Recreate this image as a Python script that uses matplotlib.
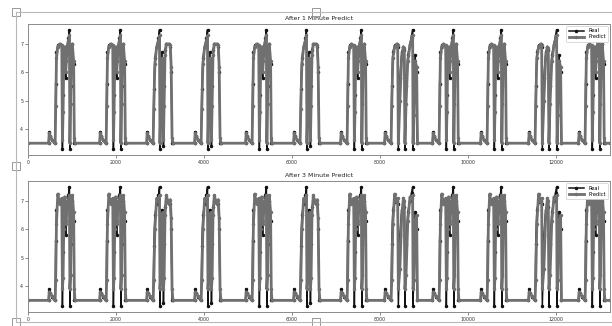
import matplotlib.pyplot as plt
from matplotlib.patches import Rectangle
from matplotlib.lines import Line2D

# one cycle = bump before the rise, then several up/down swings
# offsets are in samples from the rise
OFFSETS = {
    'A': [-150, -135, -110, -70, -20, 0, 12, 30, 60, 100, 150, 165, 180, 195, 215, 240, 255, 270, 300, 325, 335, 350, 365, 390, 420, 435, 450],
    'B': [-150, -135, -110, -70, -20, 0, 15, 40, 80, 120, 145, 155, 175, 200, 220, 235, 250, 270, 300, 350, 390, 410, 430, 450],
    'C': [-150, -135, -110, -70, -20, 0, 15, 40, 80, 130, 150, 165, 200, 240, 280, 300, 315, 340, 380, 430, 470, 490, 500, 520, 545, 580, 600],
}
real_vals = {
    'A': [3.5, 3.9, 3.75, 3.62, 3.55, 3.5, 5.6, 6.7, 6.95, 7.0, 6.9, 3.3, 5.2, 6.5, 6.9, 5.8, 6.6, 6.9, 7.2, 7.5, 3.3, 5.5, 6.7, 7.0, 6.3, 3.5, 3.5],
    'B': [3.5, 3.9, 3.75, 3.62, 3.55, 3.5, 5.4, 6.5, 6.9, 7.2, 7.5, 3.3, 5.6, 6.7, 6.0, 3.4, 5.5, 6.8, 7.0, 7.0, 6.9, 6.0, 3.5, 3.5],
    'C': [3.5, 3.9, 3.75, 3.62, 3.55, 3.5, 5.5, 6.7, 6.95, 7.0, 6.9, 3.3, 5.8, 6.7, 6.9, 6.8, 3.3, 5.5, 6.6, 7.0, 7.3, 7.5, 3.3, 5.0, 6.6, 6.0, 3.5],
}
pred1_vals = {
    'A': [3.5, 3.85, 3.75, 3.62, 3.55, 3.5, 4.8, 6.5, 6.9, 7.0, 6.95, 3.6, 4.6, 6.3, 6.9, 6.0, 6.4, 6.9, 7.1, 7.3, 3.5, 4.9, 6.5, 7.0, 6.4, 3.7, 3.5],
    'B': [3.5, 3.85, 3.75, 3.62, 3.55, 3.5, 4.7, 6.3, 6.9, 7.1, 7.3, 3.5, 4.9, 6.5, 6.2, 3.6, 4.8, 6.6, 7.0, 7.0, 6.95, 6.2, 3.7, 3.5],
    'C': [3.5, 3.85, 3.75, 3.62, 3.55, 3.5, 4.8, 6.5, 6.9, 7.0, 6.95, 3.5, 5.0, 6.5, 6.9, 6.85, 3.5, 4.9, 6.4, 6.95, 7.2, 7.3, 3.5, 4.5, 6.4, 6.2, 3.5],
}
pred3_vals = {
    'A': [3.5, 3.8, 3.75, 3.65, 3.55, 3.5, 4.2, 6.2, 7.25, 6.9, 7.1, 3.9, 4.3, 6.0, 7.15, 6.2, 6.3, 7.0, 7.05, 7.2, 3.9, 4.4, 6.3, 7.2, 6.6, 3.9, 3.5],
    'B': [3.5, 3.8, 3.75, 3.65, 3.55, 3.5, 4.2, 6.0, 7.1, 7.0, 7.2, 3.9, 4.3, 6.4, 6.6, 3.9, 4.3, 6.5, 7.2, 6.9, 7.05, 6.4, 3.9, 3.5],
    'C': [3.5, 3.8, 3.75, 3.65, 3.55, 3.5, 4.2, 6.2, 7.25, 6.95, 7.1, 3.9, 4.6, 6.4, 7.1, 7.0, 3.9, 4.4, 6.3, 7.15, 7.1, 7.2, 3.9, 4.2, 6.3, 6.5, 3.5],
}
cycle_starts = [614, 1773, 2841, 3932, 5091, 6182, 7250, 8250, 9341, 10432, 11523, 12659]
cycle_types = ['A', 'A', 'B', 'B', 'A', 'B', 'A', 'C', 'A', 'A', 'C', 'A']
x_end = 13230
base = 3.5


def build(vals):
    xs, ys = [0], [base]
    for s, t in zip(cycle_starts, cycle_types):
        xs += [s + o for o in OFFSETS[t]]
        ys += vals[t]
    xs.append(x_end)
    ys.append(base)
    return xs, ys


panels = [("After 1 Minute Predict", pred1_vals), ("After 3 Minute Predict", pred3_vals)]

fig = plt.figure(figsize=(6.12, 3.26), dpi=100)
fig.patch.set_facecolor('white')

ax_boxes = [[0.046, 0.525, 0.951, 0.402], [0.046, 0.043, 0.951, 0.402]]
rx, ry = build(real_vals)
for (title, pvals), box in zip(panels, ax_boxes):
    ax = fig.add_axes(box)
    px, py = build(pvals)
    ax.plot(rx, ry, color='#111111', lw=1.1, marker='.', ms=3, label='Real')
    ax.plot(px, py, color='#707070', lw=2.0, marker='.', ms=3, label='Predict')
    ax.set_xlim(0, x_end)
    ax.set_ylim(3.09, 7.71)
    ax.set_yticks([4, 5, 6, 7])
    ax.set_xticks(range(0, 12001, 2000))
    ax.set_title(title, fontsize=4.5, pad=2.5, color='#222222')
    ax.tick_params(labelsize=3.4, length=2, width=0.5, pad=1.5, colors='#555555', labelcolor='#333333')
    for sp in ax.spines.values():
        sp.set_color('#8a8a8a')
        sp.set_linewidth(0.7)
    leg = ax.legend(loc='upper right', fontsize=3.7, handlelength=3, borderpad=0.4,
                    labelspacing=0.2, framealpha=1, edgecolor='#cccccc')
    leg.get_frame().set_linewidth(0.5)

# selection frame of the screenshot
frame_c = '#b8b8b8'
W, H = 612, 326
fig.add_artist(Line2D([16 / W, 1], [1 - 12 / H, 1 - 12 / H], color=frame_c, lw=0.8))
fig.add_artist(Line2D([16 / W, 16 / W], [1 - 12 / H, 1 - 322 / H], color=frame_c, lw=0.8))
fig.add_artist(Line2D([16 / W, 1], [1 - 322 / H, 1 - 322 / H], color=frame_c, lw=0.8))
for hx, hy in [(16, 12), (316, 12), (16, 166), (16, 322), (316, 322)]:
    fig.add_artist(Rectangle(((hx - 4) / W, 1 - (hy + 4) / H), 8 / W, 8 / H,
                             facecolor='white', edgecolor='#888888', lw=0.6))

fig.savefig('out.png', dpi=100)
